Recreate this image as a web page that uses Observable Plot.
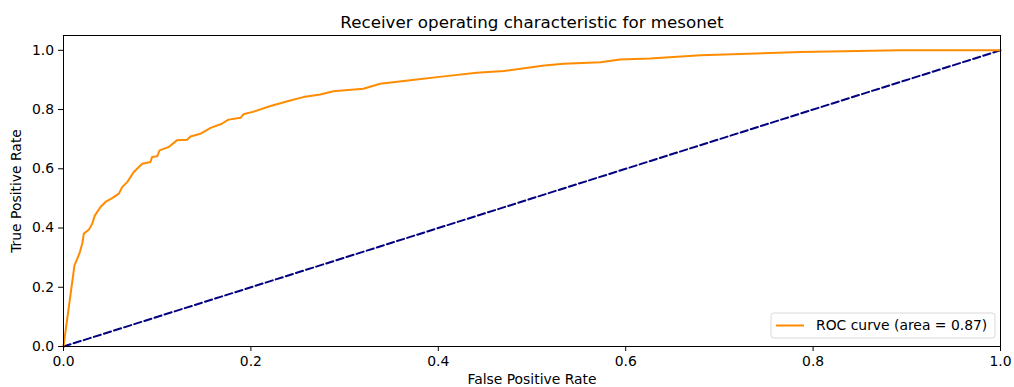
<!DOCTYPE html>
<html>
<head>
<meta charset="utf-8">
<script src="https://cdn.jsdelivr.net/npm/d3@7"></script>
<script src="https://cdn.jsdelivr.net/npm/@observablehq/plot@0.6"></script>
<style>
  html, body { margin: 0; padding: 0; background: #fff; }
  #chart { width: 1014px; height: 387px; }
</style>
</head>
<body>
<div id="chart"></div>
<script>
// ROC curve for the mesonet classifier (false/true positive rates)
const fpr = [0, 0.0117, 0.0146, 0.017, 0.02, 0.0217, 0.027, 0.0306, 0.0334, 0.0395, 0.0448, 0.052, 0.059, 0.0626, 0.068, 0.075, 0.084, 0.0928, 0.0946, 0.1, 0.1025, 0.112, 0.121, 0.132, 0.1355, 0.146, 0.157, 0.169, 0.176, 0.189, 0.192, 0.203, 0.221, 0.240, 0.256, 0.274, 0.288, 0.320, 0.338, 0.370, 0.406, 0.441, 0.470, 0.513, 0.534, 0.573, 0.594, 0.626, 0.680, 0.787, 0.893, 1.0];
const tpr = [0, 0.274, 0.296, 0.314, 0.347, 0.381, 0.394, 0.414, 0.442, 0.471, 0.488, 0.501, 0.516, 0.538, 0.555, 0.589, 0.617, 0.623, 0.640, 0.642, 0.662, 0.673, 0.696, 0.698, 0.709, 0.718, 0.738, 0.752, 0.766, 0.772, 0.784, 0.793, 0.812, 0.829, 0.842, 0.851, 0.862, 0.870, 0.887, 0.899, 0.912, 0.924, 0.930, 0.949, 0.955, 0.960, 0.969, 0.972, 0.983, 0.994, 1.0, 1.0];

// Chance diagonal
const chanceX = [0, 1];
const chanceY = [0, 1];

const xTicks = [0, 0.2, 0.4, 0.6, 0.8, 1.0];
const yTicks = [0, 0.2, 0.4, 0.6, 0.8, 1.0];

const rocAuc = 0.87;
const titleText = "Receiver operating characteristic for mesonet";
const legendLabel = `ROC curve (area = ${rocAuc.toFixed(2)})`;

const roc = fpr.map((x, i) => ({x, y: tpr[i]}));
const chance = chanceX.map((x, i) => ({x, y: chanceY[i]}));

const W = 1014, H = 387;
const margin = {top: 35, right: 14, bottom: 41, left: 63};
const font = "DejaVu Sans, sans-serif";
const fontSize = 13.9;

const chart = Plot.plot({
  width: W,
  height: H,
  marginTop: margin.top,
  marginRight: margin.right,
  marginBottom: margin.bottom,
  marginLeft: margin.left,
  style: {fontFamily: font, fontSize: `${fontSize}px`, color: "#000", background: "#fff", overflow: "visible"},
  x: {domain: [0, 1]},
  y: {domain: [0, 1.05]},
  marks: [
    Plot.line(chance, {x: "x", y: "y", stroke: "#000080", strokeWidth: 2, strokeDasharray: "7.4,3.2"}),
    Plot.line(roc, {x: "x", y: "y", stroke: "#ff8c00", strokeWidth: 2}),
    Plot.frame({stroke: "#000", strokeWidth: 1}),
    Plot.axisX({ticks: xTicks, tickFormat: d3.format(".1f"), tickSize: 5, tickPadding: 5,
      label: "False Positive Rate", labelAnchor: "center", labelArrow: "none", labelOffset: 37}),
    Plot.axisY({ticks: yTicks, tickFormat: d3.format(".1f"), tickSize: 5, tickPadding: 4.5,
      label: "True Positive Rate", labelAnchor: "center", labelArrow: "none", labelOffset: 52}),
    Plot.text([titleText], {frameAnchor: "top", dy: -12.5, lineAnchor: "middle", fontSize: 16.7, fill: "#000"})
  ]
});

document.getElementById("chart").appendChild(chart);

// Legend box in the lower-right corner of the plotting area
const svg = d3.select(chart);
const boxW = 224, boxH = 25;
const bx = W - margin.right - 5 - boxW;
const by = H - margin.bottom - 8 - boxH;
const lg = svg.append("g").attr("transform", `translate(${bx},${by})`);
lg.append("rect")
  .attr("width", boxW).attr("height", boxH).attr("rx", 3)
  .attr("fill", "#fff").attr("fill-opacity", 0.8)
  .attr("stroke", "#d9d9d9").attr("stroke-width", 1);
lg.append("line")
  .attr("x1", 5).attr("x2", 33).attr("y1", boxH / 2).attr("y2", boxH / 2)
  .attr("stroke", "#ff8c00").attr("stroke-width", 2);
lg.append("text")
  .attr("x", 45).attr("y", boxH / 2).attr("dy", "0.35em")
  .attr("text-anchor", "start")
  .attr("font-family", font).attr("font-size", fontSize).attr("fill", "#000")
  .text(legendLabel);
</script>
</body>
</html>
